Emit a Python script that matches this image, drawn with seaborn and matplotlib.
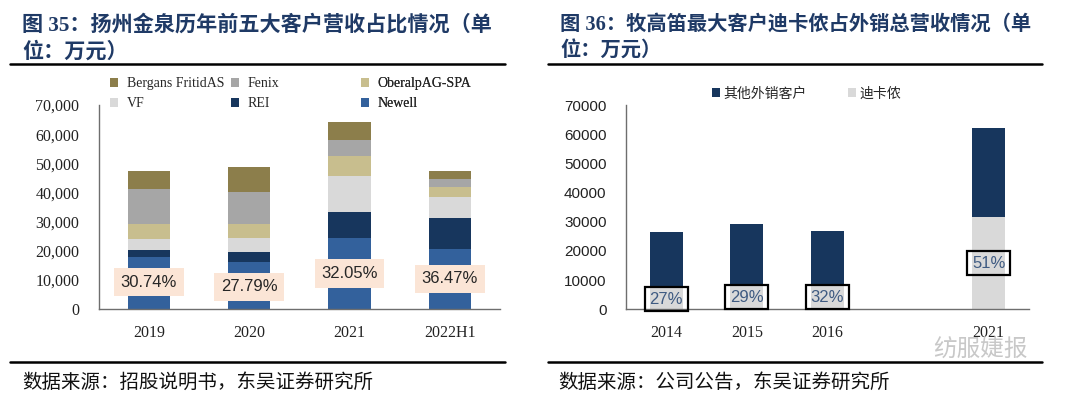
import matplotlib
matplotlib.use("Agg")
import matplotlib.pyplot as plt
from matplotlib.patches import Patch
from matplotlib.lines import Line2D
import seaborn as sns
import numpy as np

# --- data: left chart (万元) ---
years_l = ["2019", "2020", "2021", "2022H1"]
newell = [17800, 16200, 24500, 20500]
rei = [2400, 3300, 8800, 10900]
vf = [4000, 5000, 12450, 7050]
oberalp = [5000, 4700, 6850, 3450]
fenix = [11900, 11100, 5400, 2600]
bergans = [6400, 8500, 6250, 2750]
share_l = ["30.74%", "27.79%", "32.05%", "36.47%"]
share_l_y = [9350, 7700, 12300, 10400]

# --- data: right chart (万元) ---
years_r = ["2014", "2015", "2016", "2021"]
order_r = ["2014", "2015", "2016", "", "2021"]
decathlon = [7200, 8400, 8600, 31600]
others = [19400, 20700, 18300, 30400]
share_r = ["27%", "29%", "32%", "51%"]
share_r_y = [3500, 4200, 4200, 15850]

C_BERGANS = "#8C7E4B"
C_FENIX = "#A6A6A6"
C_OBERALP = "#C8BE8E"
C_VF = "#D9D9D9"
C_REI = "#17365D"
C_NEWELL = "#33619C"
C_TITLE = "#1F3A66"
C_SPINE = "#6E6E6E"

sns.set_theme(style="white")
plt.rcParams["font.family"] = ["Liberation Serif", "Noto Sans CJK SC", "DejaVu Sans"]
CJK = ["Noto Sans CJK SC", "DejaVu Sans"]
TITLE_FONT = ["Liberation Serif", "Noto Sans CJK SC"]

fig = plt.figure(figsize=(10.8, 4.08), dpi=100)
W, H = 1080.0, 408.0


def px_axes(x0, x1, ytop, ybot):
    return fig.add_axes([x0 / W, 1 - ybot / H, (x1 - x0) / W, (ybot - ytop) / H])


def style_axis(ax, n, bounds):
    sns.despine(ax=ax)
    for s in ["left", "bottom"]:
        ax.spines[s].set_color(C_SPINE)
        ax.spines[s].set_linewidth(1.0)
    ax.set_xlim(-0.5, n - 0.5)
    ax.set_ylim(0, 70000)
    ax.set_yticks(np.arange(0, 70001, 10000))
    ax.set_xticks(bounds, minor=True)
    ax.tick_params(axis="x", which="major", length=0, pad=11, labelsize=11.5, colors="#222222")
    ax.tick_params(axis="x", which="minor", direction="in", length=4, color=C_SPINE, width=1)
    ax.tick_params(axis="y", direction="in", length=3, color=C_SPINE, width=1, pad=14)
    ax.set_xlabel("")
    ax.set_ylabel("")
    ax.grid(False)


# ================= left chart =================
ax1 = px_axes(98.7, 500, 105, 309.3)
layers = [newell, rei, vf, oberalp, fenix, bergans]
colors = [C_NEWELL, C_REI, C_VF, C_OBERALP, C_FENIX, C_BERGANS]
cum = np.cumsum(np.array(layers), axis=0)
# draw tallest cumulative first so lower segments overlay it
for i in range(len(layers) - 1, -1, -1):
    sns.barplot(x=years_l, y=cum[i], color=colors[i], width=0.42, saturation=1,
                errorbar=None, linewidth=0, ax=ax1)
style_axis(ax1, len(years_l), [0.5, 1.5, 2.5])
ax1.set_yticklabels([f"{int(v):,}" for v in ax1.get_yticks()], fontsize=11.5,
                    family="Liberation Serif", color="#222222")
for i, (lab, yv) in enumerate(zip(share_l, share_l_y)):
    ax1.text(i, yv, lab, ha="center", va="center", fontsize=12, family="Liberation Sans",
             color="#262626",
             bbox=dict(boxstyle="square,pad=0.4", fc="#FBE5D6", ec="none"))

# legend placed column by column to mimic the report layout
leg_cols = [
    ([("Bergans FritidAS", C_BERGANS), ("VF", C_VF)], 0.028),
    ([("Fenix", C_FENIX), ("REI", C_REI)], 0.33),
    ([("OberalpAG-SPA", C_OBERALP), ("Newell", C_NEWELL)], 0.654),
]
for entries, xa in leg_cols:
    handles = [Patch(facecolor=c, edgecolor="none", label=l) for l, c in entries]
    leg = ax1.legend(handles=handles, loc="upper left", bbox_to_anchor=(xa, 1.135),
                     frameon=False, handlelength=0.6, handleheight=0.6,
                     handletextpad=0.6, labelspacing=0.5, borderpad=0, borderaxespad=0,
                     prop={"family": "Liberation Serif", "size": 10})
    ax1.add_artist(leg)

# ================= right chart =================
ax2 = px_axes(626, 1029, 105, 309.3)
total_r = np.array(decathlon) + np.array(others)
sns.barplot(x=years_r, y=total_r, order=order_r, color=C_REI, width=0.41, saturation=1,
            errorbar=None, linewidth=0, ax=ax2)
sns.barplot(x=years_r, y=decathlon, order=order_r, color=C_VF, width=0.41, saturation=1,
            errorbar=None, linewidth=0, ax=ax2)
style_axis(ax2, len(order_r), [0.5, 1.5, 2.5, 3.5, 4.5])
ax2.set_yticklabels([f"{int(v)}" for v in ax2.get_yticks()], fontsize=11,
                    family="Liberation Sans", color="#222222")
pos_r = [order_r.index(y) for y in years_r]
for p, lab, yv in zip(pos_r, share_r, share_r_y):
    ax2.text(p, yv, lab, ha="center", va="center", fontsize=12, family="Liberation Sans",
             color="#3F5B82",
             bbox=dict(boxstyle="square,pad=0.28", fc="none", ec="black", lw=1.6))
handles_r = [Patch(facecolor=C_REI, edgecolor="none", label="其他外销客户"),
             Patch(facecolor=C_VF, edgecolor="none", label="迪卡侬")]
ax2.legend(handles=handles_r, loc="upper left", bbox_to_anchor=(0.213, 1.09), ncol=2,
           frameon=False, handlelength=0.6, handleheight=0.6, handletextpad=0.2,
           columnspacing=3.0, borderpad=0, borderaxespad=0,
           prop={"family": CJK, "size": 10})

# ================= titles, rules, sources =================
fig.text(22 / W, 1 - 25 / H, "图 35：扬州金泉历年前五大客户营收占比情况（单",
         fontsize=15.2, fontweight="bold", color=C_TITLE, va="center", family=TITLE_FONT)
fig.text(22 / W, 1 - 52 / H, "位：万元）", fontsize=15.2, fontweight="bold",
         color=C_TITLE, va="center", family=TITLE_FONT)
fig.text(560 / W, 1 - 25 / H, "图 36：牧高笛最大客户迪卡侬占外销总营收情况（单",
         fontsize=14.6, fontweight="bold", color=C_TITLE, va="center", family=TITLE_FONT)
fig.text(560 / W, 1 - 52 / H, "位：万元）", fontsize=14.6, fontweight="bold",
         color=C_TITLE, va="center", family=TITLE_FONT)

for x0, x1 in [(10, 505), (548, 1042)]:
    for yy in [64, 362]:
        fig.add_artist(Line2D([x0 / W, x1 / W], [1 - yy / H, 1 - yy / H],
                              color="black", lw=1.8))

fig.text(22 / W, 1 - 382 / H, "数据来源：招股说明书，东吴证券研究所", fontsize=14,
         color="#111111", va="center", family=CJK)
fig.text(558 / W, 1 - 382 / H, "数据来源：公司公告，东吴证券研究所", fontsize=14,
         color="#111111", va="center", family=CJK)
fig.text(1028 / W, 1 - 350 / H, "纺服婕报", fontsize=17, color="#C8C8C8", ha="right",
         va="center", family=CJK)

fig.savefig("out.png", dpi=100, facecolor="white")
